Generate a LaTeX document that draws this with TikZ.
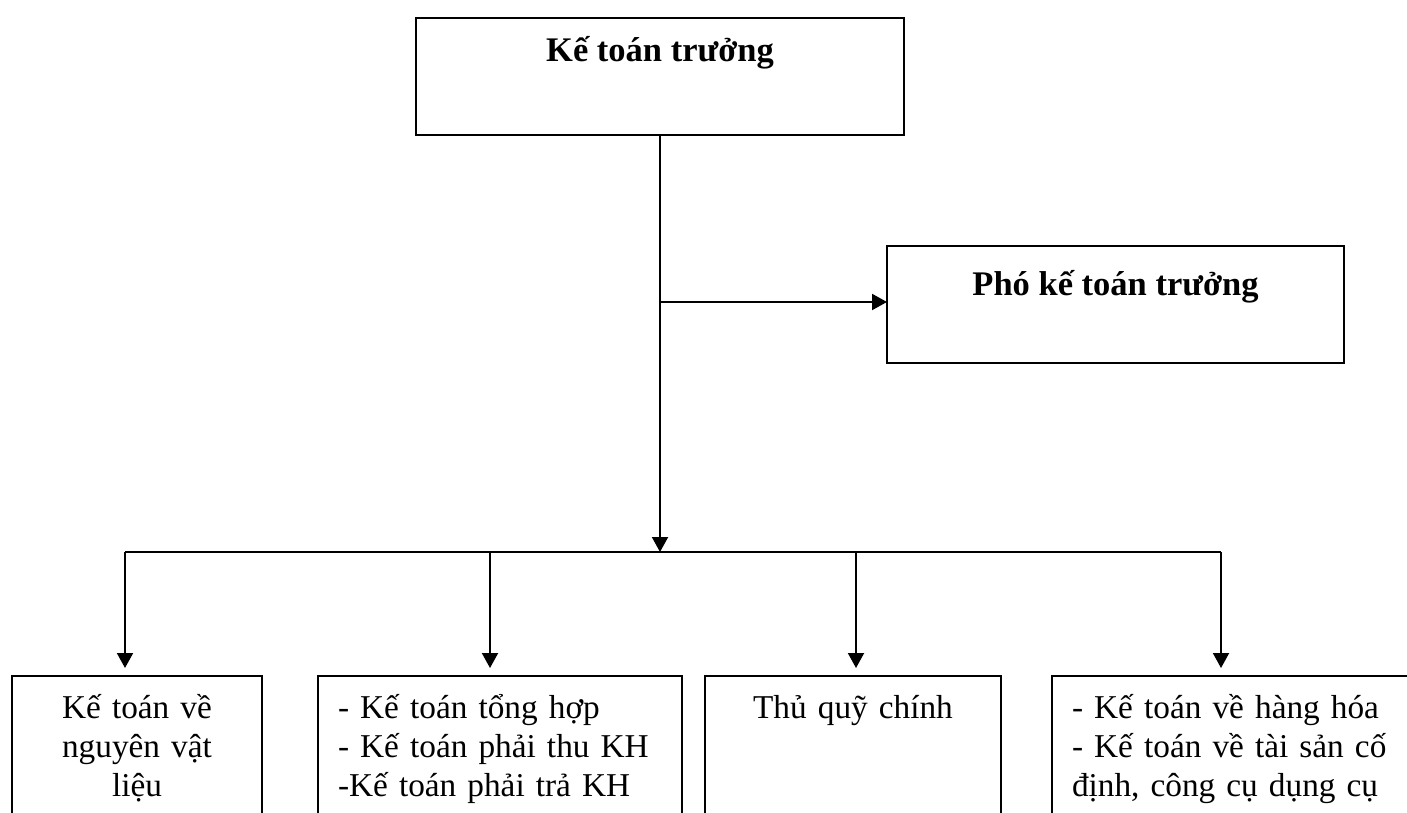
\documentclass[tikz,border=0pt]{standalone}
\usepackage{fontspec}
\setmainfont{Liberation Serif}
\usetikzlibrary{arrows.meta,positioning}
\newcommand{\chartfont}{\fontsize{34.5}{39}\selectfont}
\newcommand{\stafffont}{\fontsize{33.3}{39}\selectfont}
\tikzset{
	org chart/.style={
		x=1pt, y=-1pt,
		line width=2pt,
		arr/.style={-{Triangle[length=15pt,width=16pt]}},
		every node/.style={font=\chartfont}
		},
	head box/.style={draw, anchor=north west, inner sep=0pt, outer sep=0pt,
		font=\chartfont\bfseries, text height=#1, text depth=117pt-#1},
	staff box/.style={draw, anchor=north west, inner ysep=0pt, inner xsep=20pt, outer sep=0pt,
		font=\stafffont, text height=42pt, text depth=200pt}
}

\begin{document}
\begin{tikzpicture}[org chart]
   \useasboundingbox (0,0) rectangle (1407,813);
   \clip (0,0) rectangle (1407,813);
   \node[head box=44pt, minimum width=488pt] (chief) at (416,18) {Kế toán trưởng};
   \node[head box=49pt, minimum width=457pt] (deputy) at (887,246) {Phó kế toán trưởng};
   \node[staff box, text width=210pt, align=center] (mat) at (12,676)
      {Kế toán về\\ nguyên vật\\ liệu};
   \node[staff box, text width=324pt, align=left] (gen) at (318,676)
      {- Kế toán tổng hợp\\ - Kế toán phải thu KH\\ -Kế toán phải trả KH};
   \node[staff box, text width=256pt, align=center] (cash) at (705,676) {Thủ quỹ chính};
   \node[staff box, text width=360pt, align=left] (asset) at (1052,676)
      {- Kế toán về hàng hóa\\ - Kế toán về tài sản cố\\ định, công cụ dụng cụ};
   \coordinate (fork) at (chief.south |- 0,302);
   \coordinate (hub) at (chief.south |- 0,552);
   \draw[arr] (chief.south) -- (hub);
   \draw[arr] (fork) -- (fork -| deputy.west);
   \draw (125,552) coordinate (bus west) -- (1221,552) coordinate (bus east);
   \foreach \b/\x in {mat/125, gen/490, cash/856, asset/1221}
      \draw[arr, shorten >=8pt] (\x,552) coordinate (drop-\b) -- (drop-\b |- \b.north);
\end{tikzpicture}
\end{document}
